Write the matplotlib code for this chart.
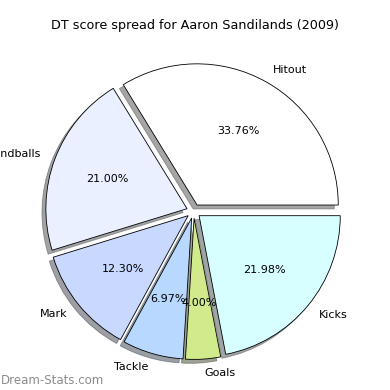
import matplotlib
matplotlib.use('Agg')
import matplotlib.pyplot as plt

labels = ['Hitout', 'Handballs', 'Mark', 'Tackle', 'Goals', 'Kicks']
shares = [33.76, 21.00, 12.30, 6.97, 4.00, 21.98]
colors = ['#ffffff', '#eaf0ff', '#c8d8ff', '#b8d8ff', '#d0ea8c', '#d8ffff']

fig = plt.figure(figsize=(3.9, 3.9), dpi=100)
ax = fig.add_axes([0.044, 0.006, 0.905, 0.905])
ax.pie(shares, labels=labels, colors=colors, autopct='%1.2f%%',
       explode=[0.05] * len(shares), shadow=True, startangle=0,
       wedgeprops={'edgecolor': 'black', 'linewidth': 0.6},
       textprops={'fontsize': 8})
ax.set_aspect('equal')
fig.text(0.5, 0.935, 'DT score spread for Aaron Sandilands (2009)',
         ha='center', va='center', fontsize=9.2)
fig.text(0.003, 0.025, 'Dream-Stats.com', color='#8c8c8c', fontsize=8.5,
         ha='left', va='center')
fig.savefig('out.png', dpi=100)
